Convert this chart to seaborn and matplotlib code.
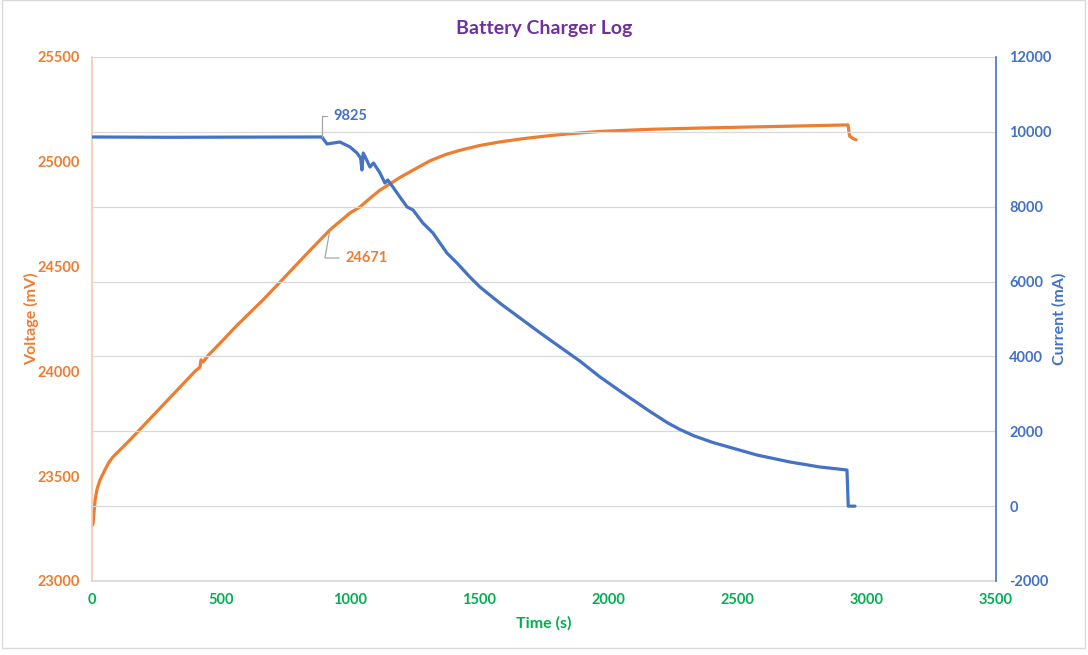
import pandas as pd
import matplotlib.pyplot as plt
import matplotlib.patches as mpatches
import seaborn as sns

# data
volt_time = [0, 4, 12, 20, 31, 50, 65, 81, 108, 147, 200, 260, 340, 400, 418, 422,
             430, 449, 500, 560, 662, 728, 800, 850, 921, 999, 1037, 1080, 1115,
             1154, 1192, 1250, 1309, 1370, 1425, 1502, 1580, 1680, 1773, 1870,
             1967, 2160, 2354, 2547, 2741, 2927, 2933, 2945, 2958]
voltage = [23265, 23272, 23387, 23440, 23482, 23530, 23565, 23592, 23625, 23673,
           23742, 23820, 23924, 24002, 24020, 24055, 24045, 24075, 24140, 24218,
           24341, 24426, 24520, 24585, 24675, 24756, 24784, 24830, 24865, 24895,
           24925, 24965, 25005, 25035, 25055, 25078, 25095, 25112, 25125, 25136,
           25145, 25155, 25161, 25166, 25171, 25176, 25123, 25112, 25105]

curr_time = [0, 300, 600, 890, 910, 960, 999, 1026, 1040, 1045, 1050, 1060, 1076,
             1090, 1115, 1134, 1145, 1165, 1192, 1220, 1243, 1281, 1320, 1374,
             1413, 1463, 1502, 1580, 1657, 1735, 1812, 1890, 1967, 2060, 2160,
             2230, 2276, 2330, 2404, 2574, 2702, 2818, 2923, 2928, 2954]
current = [9863, 9855, 9860, 9863, 9676, 9729, 9596, 9435, 9300, 8981, 9435, 9300,
           9061, 9168, 8901, 8634, 8714, 8527, 8260, 7993, 7912, 7565, 7298, 6764,
           6497, 6122, 5855, 5420, 5027, 4630, 4252, 3870, 3450, 3000, 2530, 2220,
           2050, 1880, 1700, 1367, 1180, 1046, 966, 0, 0]

volt_ticks = [23000, 23500, 24000, 24500, 25000, 25500]
curr_ticks = [-2000, 0, 2000, 4000, 6000, 8000, 10000, 12000]
time_ticks = [0, 500, 1000, 1500, 2000, 2500, 3000, 3500]

ORANGE = "#ED7D31"
BLUE = "#4472C4"
GREEN = "#00B050"
PURPLE = "#7030A0"
GRID = "#D9D9D9"

sns.set_theme(style="white")
plt.rcParams["font.family"] = ["Lato", "DejaVu Sans"]

df_v = pd.DataFrame({"time": volt_time, "voltage": voltage})
df_c = pd.DataFrame({"time": curr_time, "current": current})

fig = plt.figure(figsize=(10.88, 6.55), dpi=100)
ax = fig.add_axes([92 / 1088, 1 - 581 / 655, (996 - 92) / 1088, (581 - 57) / 655])
ax2 = ax.twinx()

sns.lineplot(data=df_v, x="time", y="voltage", ax=ax, color=ORANGE, lw=2.3)
sns.lineplot(data=df_c, x="time", y="current", ax=ax2, color=BLUE, lw=2.3)

ax.set_xlim(0, 3500)
ax.set_ylim(23000, 25500)
ax2.set_ylim(-2000, 12000)
ax.set_xticks(time_ticks)
ax.set_yticks(volt_ticks)
ax2.set_yticks(curr_ticks)
ax.set_xticklabels([str(t) for t in time_ticks], color=GREEN, fontweight="bold", fontsize=10.5)
ax.set_yticklabels([str(v) for v in volt_ticks], color=ORANGE, fontweight="bold", fontsize=10.5)
ax2.set_yticklabels([str(c) for c in curr_ticks], color=BLUE, fontweight="bold", fontsize=10.5)
ax.tick_params(axis="x", length=0, pad=9)
ax.tick_params(axis="y", length=0, pad=8.5)
ax2.tick_params(axis="y", length=0, pad=9.5)

ax2.grid(axis="y", color=GRID, lw=0.9)
ax.grid(False)

for a in (ax, ax2):
    a.spines["top"].set_visible(False)
ax.spines["left"].set_color("#F8CBAD")
ax.spines["bottom"].set_color(GRID)
ax.spines["right"].set_visible(False)
ax2.spines["left"].set_visible(False)
ax2.spines["bottom"].set_visible(False)
ax2.spines["right"].set_color(BLUE)
ax2.spines["right"].set_linewidth(1.2)

ax.set_xlabel("Time (s)", color=GREEN, fontweight="bold", fontsize=11.5, labelpad=6)
ax.set_ylabel("Voltage (mV)", color=ORANGE, fontweight="bold", fontsize=11.5, labelpad=-1)
ax2.set_ylabel("Current (mA)", color=BLUE, fontweight="bold", fontsize=11.5, labelpad=0.5)

fig.suptitle("Battery Charger Log", color=PURPLE, fontweight="bold", fontsize=14, y=0.97)

ax2.annotate("9825", xy=(890, 9863), xytext=(935, 10424), color=BLUE,
             fontweight="bold", fontsize=10.5, va="center",
             arrowprops=dict(arrowstyle="-", color="#A6A6A6", lw=0.9,
                             connectionstyle="angle,angleA=0,angleB=90,rad=0",
                             shrinkA=2, shrinkB=0))
ax.annotate("24671", xy=(921, 24675), xytext=(980, 24541), color=ORANGE,
            fontweight="bold", fontsize=10.5, va="center",
            arrowprops=dict(arrowstyle="-", color="#A6A6A6", lw=0.9,
                            connectionstyle="angle,angleA=0,angleB=80,rad=0",
                            shrinkA=2, shrinkB=0))

# faint sheet border around the chart
fig.patches.append(mpatches.Rectangle((0.002, 0.01), 0.995, 0.99, transform=fig.transFigure,
                                      fill=False, edgecolor=GRID, lw=1))

fig.savefig("out.png", dpi=100)
plt.close(fig)
